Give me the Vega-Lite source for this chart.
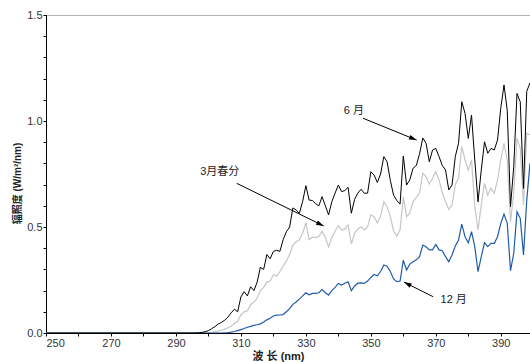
{
  "$schema": "https://vega.github.io/schema/vega-lite/v6.json",
  "width": 484,
  "height": 318,
  "autosize": {"type": "none"},
  "padding": {"left": 46, "top": 15, "right": 0, "bottom": 29},
  "background": "white",
  "config": {
    "view": {"stroke": "#b4b4b4", "strokeWidth": 1},
    "axis": {"labelFont": "Liberation Sans", "labelFontSize": 11, "labelColor": "#333333", "titleFont": "Liberation Sans, Noto Sans CJK SC", "titleFontSize": 10, "titleFontWeight": "bold", "titleColor": "#222222", "domainColor": "#000000", "tickColor": "#000000", "tickSize": 3, "grid": false}
  },
  "datasets": {
    "spec": [
      {"nm":250,"june":0,"march":0,"december":0},
      {"nm":260,"june":0,"march":0,"december":0},
      {"nm":270,"june":0,"march":0,"december":0},
      {"nm":280,"june":0,"march":0,"december":0},
      {"nm":290,"june":0,"march":0,"december":0},
      {"nm":295,"june":0,"march":0,"december":0},
      {"nm":296,"june":0.0005,"march":0,"december":0},
      {"nm":297,"june":0.001,"march":0,"december":0},
      {"nm":298,"june":0.003,"march":0,"december":0},
      {"nm":299,"june":0.006,"march":0,"december":0},
      {"nm":300,"june":0.011,"march":0.001,"december":0},
      {"nm":301,"june":0.02,"march":0.002,"december":0},
      {"nm":302,"june":0.03,"march":0.005,"december":0},
      {"nm":303,"june":0.042,"march":0.009,"december":0},
      {"nm":304,"june":0.05,"march":0.013,"december":0},
      {"nm":305,"june":0.06,"march":0.018,"december":0.001},
      {"nm":306,"june":0.075,"march":0.025,"december":0.002},
      {"nm":307,"june":0.095,"march":0.033,"december":0.004},
      {"nm":308,"june":0.112,"march":0.045,"december":0.007},
      {"nm":309,"june":0.1,"march":0.055,"december":0.011},
      {"nm":310,"june":0.17,"march":0.085,"december":0.016},
      {"nm":311,"june":0.195,"march":0.1,"december":0.021},
      {"nm":312,"june":0.175,"march":0.105,"december":0.027},
      {"nm":313,"june":0.218,"march":0.135,"december":0.031},
      {"nm":314,"june":0.2,"march":0.145,"december":0.036},
      {"nm":315,"june":0.24,"march":0.165,"december":0.039},
      {"nm":316,"june":0.31,"march":0.2,"december":0.043},
      {"nm":317,"june":0.3,"march":0.215,"december":0.052},
      {"nm":318,"june":0.37,"march":0.24,"december":0.062},
      {"nm":319,"june":0.35,"march":0.245,"december":0.07},
      {"nm":320,"june":0.385,"march":0.275,"december":0.08},
      {"nm":321,"june":0.39,"march":0.268,"december":0.084},
      {"nm":322,"june":0.385,"march":0.29,"december":0.085},
      {"nm":323,"june":0.44,"march":0.315,"december":0.087},
      {"nm":324,"june":0.478,"march":0.34,"december":0.1},
      {"nm":325,"june":0.5,"march":0.37,"december":0.115},
      {"nm":326,"june":0.59,"march":0.415,"december":0.135},
      {"nm":327,"june":0.58,"march":0.43,"december":0.146},
      {"nm":328,"june":0.565,"march":0.44,"december":0.16},
      {"nm":329,"june":0.62,"march":0.47,"december":0.175},
      {"nm":330,"june":0.695,"march":0.52,"december":0.19},
      {"nm":331,"june":0.627,"march":0.44,"december":0.18},
      {"nm":332,"june":0.625,"march":0.452,"december":0.187},
      {"nm":333,"june":0.61,"march":0.45,"december":0.187},
      {"nm":334,"june":0.6,"march":0.455,"december":0.19},
      {"nm":335,"june":0.643,"march":0.48,"december":0.205},
      {"nm":336,"june":0.6,"march":0.45,"december":0.19},
      {"nm":337,"june":0.557,"march":0.407,"december":0.179},
      {"nm":338,"june":0.62,"march":0.45,"december":0.2},
      {"nm":339,"june":0.66,"march":0.48,"december":0.215},
      {"nm":340,"june":0.698,"march":0.507,"december":0.234},
      {"nm":341,"june":0.667,"march":0.486,"december":0.226},
      {"nm":342,"june":0.672,"march":0.49,"december":0.235},
      {"nm":343,"june":0.687,"march":0.51,"december":0.242},
      {"nm":344,"june":0.565,"march":0.42,"december":0.2},
      {"nm":345,"june":0.63,"march":0.47,"december":0.222},
      {"nm":346,"june":0.66,"march":0.49,"december":0.235},
      {"nm":347,"june":0.678,"march":0.5,"december":0.236},
      {"nm":348,"june":0.659,"march":0.486,"december":0.234},
      {"nm":349,"june":0.66,"march":0.5,"december":0.245},
      {"nm":350,"june":0.761,"march":0.557,"december":0.262},
      {"nm":351,"june":0.745,"march":0.549,"december":0.276},
      {"nm":352,"june":0.71,"march":0.52,"december":0.27},
      {"nm":353,"june":0.75,"march":0.55,"december":0.29},
      {"nm":354,"june":0.832,"march":0.619,"december":0.321},
      {"nm":355,"june":0.808,"march":0.596,"december":0.315},
      {"nm":356,"june":0.72,"march":0.55,"december":0.29},
      {"nm":357,"june":0.65,"march":0.48,"december":0.255},
      {"nm":358,"june":0.625,"march":0.458,"december":0.242},
      {"nm":359,"june":0.608,"march":0.486,"december":0.245},
      {"nm":360,"june":0.835,"march":0.643,"december":0.344},
      {"nm":361,"june":0.698,"march":0.549,"december":0.297},
      {"nm":362,"june":0.722,"march":0.565,"december":0.325},
      {"nm":363,"june":0.777,"march":0.62,"december":0.336},
      {"nm":364,"june":0.79,"march":0.64,"december":0.345},
      {"nm":365,"june":0.845,"march":0.66,"december":0.36},
      {"nm":366,"june":0.92,"march":0.753,"december":0.415},
      {"nm":367,"june":0.895,"march":0.737,"december":0.407},
      {"nm":368,"june":0.808,"march":0.703,"december":0.392},
      {"nm":369,"june":0.863,"march":0.73,"december":0.392},
      {"nm":370,"june":0.871,"march":0.761,"december":0.418},
      {"nm":371,"june":0.832,"march":0.722,"december":0.392},
      {"nm":372,"june":0.79,"march":0.66,"december":0.388},
      {"nm":373,"june":0.769,"march":0.62,"december":0.36},
      {"nm":374,"june":0.675,"march":0.583,"december":0.336},
      {"nm":375,"june":0.698,"march":0.604,"december":0.368},
      {"nm":376,"june":0.832,"march":0.7,"december":0.41},
      {"nm":377,"june":0.895,"march":0.73,"december":0.439},
      {"nm":378,"june":1.091,"march":0.879,"december":0.514},
      {"nm":379,"june":1.036,"march":0.816,"december":0.454},
      {"nm":380,"june":0.918,"march":0.769,"december":0.426},
      {"nm":381,"june":1.028,"march":0.816,"december":0.478},
      {"nm":382,"june":0.816,"march":0.596,"december":0.407},
      {"nm":383,"june":0.619,"march":0.486,"december":0.289},
      {"nm":384,"june":0.769,"march":0.604,"december":0.36},
      {"nm":385,"june":0.902,"march":0.706,"december":0.426},
      {"nm":386,"june":0.848,"march":0.651,"december":0.407},
      {"nm":387,"june":0.871,"march":0.683,"december":0.423},
      {"nm":388,"june":0.863,"march":0.659,"december":0.423},
      {"nm":389,"june":0.91,"march":0.722,"december":0.454},
      {"nm":390,"june":1.06,"march":0.816,"december":0.517},
      {"nm":391,"june":1.17,"march":0.895,"december":0.561},
      {"nm":392,"june":1.05,"march":0.816,"december":0.517},
      {"nm":393,"june":0.596,"march":0.525,"december":0.294},
      {"nm":394,"june":0.785,"march":0.659,"december":0.376},
      {"nm":395,"june":1.13,"march":0.918,"december":0.572},
      {"nm":396,"june":1.09,"march":0.871,"december":0.541},
      {"nm":397,"june":0.682,"march":0.604,"december":0.368},
      {"nm":398,"june":1.14,"march":0.942,"december":0.627},
      {"nm":399,"june":1.18,"march":0.934,"december":0.8}
    ],
    "arrows": [
      {"nm": 364.1, "value": 0.91, "nm2": 347.6, "value2": 1.013, "angle": 112},
      {"nm": 335.5, "value": 0.505, "nm2": 308.7, "value2": 0.706, "angle": 116},
      {"nm": 360.2, "value": 0.24, "nm2": 369.2, "value2": 0.171, "angle": 297}
    ],
    "labels": [
      {"nm": 344.8, "value": 1.047, "text": "6 月"},
      {"nm": 303.5, "value": 0.759, "text": "3月春分"},
      {"nm": 375.5, "value": 0.156, "text": "12 月"}
    ]
  },
  "encoding": {
    "x": {
      "field": "nm", "type": "quantitative",
      "scale": {"domain": [250, 399], "nice": false, "zero": false},
      "axis": {
        "title": "波 长 (nm)",
        "values": [250,260,270,280,290,300,310,320,330,340,350,360,370,380,390],
        "labelExpr": "(datum.value - 250) % 20 == 0 ? datum.label : ''",
        "labelDx": 3, "labelPadding": 1,
        "titleX": 232, "titleY": 23.5, "titleBaseline": "middle", "titleFontSize": 11
      }
    },
    "y": {
      "field": "value", "type": "quantitative",
      "scale": {"domain": [0, 1.5], "nice": false},
      "axis": {
        "title": "辐照度 (W/m²/nm)",
        "values": [0,0.1,0.2,0.3,0.4,0.5,0.6,0.7,0.8,0.9,1.0,1.1,1.2,1.3,1.4,1.5],
        "labelExpr": "round(datum.value * 10) % 5 == 0 ? format(datum.value, '.1f') : ''",
        "labelPadding": 1,
        "titleX": -29, "titleY": 168, "titleBaseline": "middle"
      }
    }
  },
  "layer": [
    {
      "data": {"name": "spec"},
      "transform": [{"fold": ["march"], "as": ["series", "value"]}],
      "mark": {"type": "line", "color": "#c6c6c6", "strokeWidth": 1.2, "clip": true}
    },
    {
      "data": {"name": "spec"},
      "transform": [{"fold": ["december"], "as": ["series", "value"]}],
      "mark": {"type": "line", "color": "#1f5ca8", "strokeWidth": 1.2, "clip": true}
    },
    {
      "data": {"name": "spec"},
      "transform": [{"fold": ["june"], "as": ["series", "value"]}],
      "mark": {"type": "line", "color": "#000000", "strokeWidth": 1, "clip": true}
    },
    {
      "data": {"name": "arrows"},
      "mark": {"type": "rule", "color": "#000000", "strokeWidth": 1},
      "encoding": {
        "x2": {"field": "nm2"},
        "y2": {"field": "value2"}
      }
    },
    {
      "data": {"name": "arrows"},
      "mark": {"type": "point", "shape": "M0,0L-0.5,1.6L0.5,1.6Z", "filled": true, "color": "#000000", "opacity": 1, "size": 90, "strokeWidth": 0},
      "encoding": {
        "angle": {"field": "angle", "type": "quantitative", "scale": null}
      }
    },
    {
      "data": {"name": "labels"},
      "mark": {"type": "text", "font": "Liberation Sans, Noto Sans CJK SC", "fontSize": 11, "color": "#222222", "baseline": "middle", "align": "center"},
      "encoding": {
        "text": {"field": "text"}
      }
    }
  ]
}
